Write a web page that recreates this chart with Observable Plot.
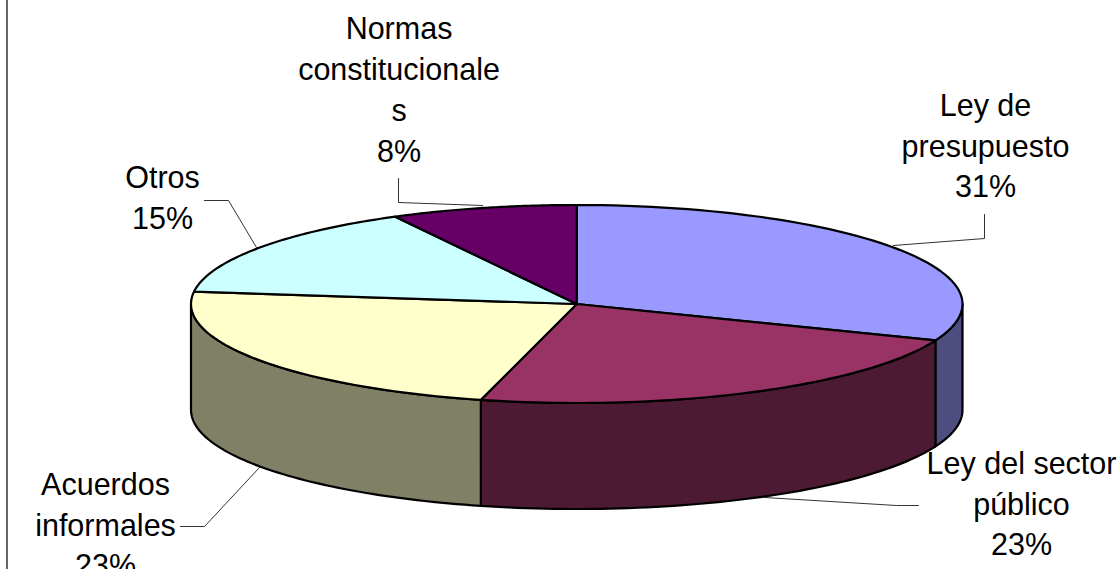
<!DOCTYPE html>
<html>
<head>
<meta charset="utf-8">
<script src="https://cdn.jsdelivr.net/npm/d3@7"></script>
<script src="https://cdn.jsdelivr.net/npm/@observablehq/plot@0.6"></script>
<style>
html,body{margin:0;padding:0;background:#fff;overflow:hidden}
svg{display:block}
</style>
</head>
<body>
<div id="chart"></div>
<script>
const categories = ["Ley de presupuesto","Ley del sector público","Acuerdos informales","Otros","Normas constitucionales"];
const shares = [31,23,23,15.2,7.8];
const topColors = ["#9999FF","#993366","#FFFFCC","#CCFFFF","#660066"];
const sideColors = ["#4D4D80","#4D1A33","#808066","#668080","#330033"];
const labelTexts = ["Ley de\npresupuesto\n31%","Ley del sector\npúblico\n23%","Acuerdos\ninformales\n23%","Otros\n15%","Normas\nconstitucionale\ns\n8%"];

// layout, in page pixels
const W = 1120, H = 569;
const pie = {left:190.5, right:962, top:204.5, bottom:402.5, depth:106};
const labelAt = [[985,143],[1021,501],[105,522],[162,194.5],[398.5,87]];
const leaders = [
  [[984,214],[984,238],[893,245]],
  [[918,505],[896,505],[764,497]],
  [[180,526],[204,526],[259,467]],
  [[204,200],[228,200],[256,247]],
  [[398,178],[398,202],[482,205]]
];
const border = [[6.5,0],[6.5,569]];

// pixel helpers: marks are defined in pie units and positioned by the scales
const cx = (pie.left+pie.right)/2, rx = (pie.right-pie.left)/2;
const cy = (pie.top+pie.bottom)/2, ry = (pie.bottom-pie.top)/2;
const ux = px => (px-cx)/rx, uy = py => (cy-py)/ry;
const depth = pie.depth/ry;
const total = d3.sum(shares);
const rim = (deg, drop=0) => {
  const a = deg*Math.PI/180;
  return {x:Math.sin(a), y:Math.cos(a)-drop};
};
const arc = (a0,a1,drop=0) => d3.range(0,61).map(i => rim(a0+(a1-a0)*i/60, drop));

let cum = 0;
const slices = shares.map((v,i) => {
  const a0 = cum/total*360; cum += v;
  return {i, a0, a1: cum/total*360};
});

const sides = slices.flatMap(s => {
  const a0 = Math.max(s.a0,90), a1 = Math.min(s.a1,270);
  if (a1 <= a0) return [];
  const pts = [...arc(a0,a1), ...arc(a0,a1,depth).reverse()];
  pts.push(pts[0]);
  return pts.map(p => ({...p, key:"side"+s.i, color:sideColors[s.i]}));
});
const tops = slices.flatMap(s => {
  const pts = [{x:0,y:0}, ...arc(s.a0,s.a1), {x:0,y:0}];
  return pts.map(p => ({...p, key:"top"+s.i, color:topColors[s.i]}));
});
const leaderPts = leaders.flatMap((l,i) => l.map(([x,y]) => ({x:ux(x),y:uy(y),key:i})));
const borderPts = border.map(([x,y]) => ({x:ux(x),y:uy(y)}));
const labels = labelTexts.map((t,i) => ({t, x:ux(labelAt[i][0]), y:uy(labelAt[i][1])}));

const chart = Plot.plot({
  width:W, height:H, margin:0,
  style:{background:"#fff", fontFamily:"'Liberation Sans',Arial,sans-serif"},
  x:{domain:[-1,1], range:[pie.left,pie.right], axis:null},
  y:{domain:[1,-1], range:[pie.top,pie.bottom], axis:null},
  color:{type:"identity"},
  marks:[
    Plot.line(borderPts,{x:"x",y:"y",stroke:"#333",strokeWidth:1.5}),
    Plot.line(leaderPts,{x:"x",y:"y",z:"key",stroke:"#333",strokeWidth:1}),
    Plot.line(sides,{x:"x",y:"y",z:"key",fill:"color",stroke:"#000",strokeWidth:2.2}),
    Plot.line(tops,{x:"x",y:"y",z:"key",fill:"color",stroke:"#000",strokeWidth:2.2}),
    Plot.text(labels,{x:"x",y:"y",text:"t",fontSize:30.5,lineHeight:1.34,fill:"#000"})
  ]
});
document.getElementById("chart").appendChild(chart);
</script>
</body>
</html>
